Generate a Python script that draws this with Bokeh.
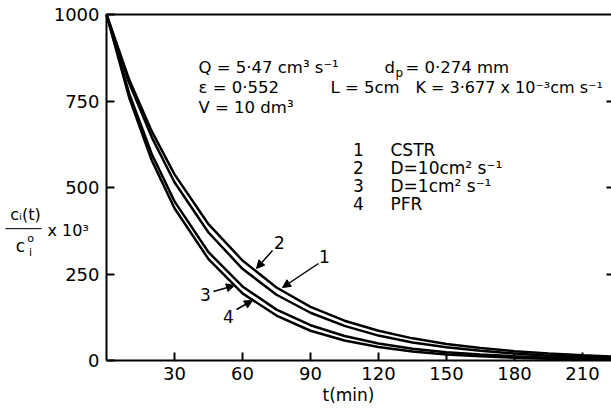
from bokeh.plotting import figure
from bokeh.models import Label, Arrow, NormalHead, FixedTicker, LinearAxis
from bokeh.embed import file_html
from bokeh.resources import INLINE

# ---- data ----
t_min = [0, 10, 20, 30, 45, 60, 75, 90, 105, 120, 135, 150, 165, 180, 195, 210, 225]
cstr = [1000, 812, 662, 538, 394, 289, 211, 155, 115, 86, 64, 48, 36, 27, 20, 15, 11]
d10 = [1000, 802, 645, 515, 370, 265, 190, 138, 100, 72, 52, 38, 28, 20, 14, 10, 7]
d1 = [1000, 772, 596, 460, 313, 214, 147, 102, 71, 49, 34, 24, 17, 12, 8, 6, 4]
pfr = [1000, 760, 578, 440, 293, 194, 130, 86, 58, 39, 26, 17, 12, 8, 5, 4, 3]

x_ticks = [30, 60, 90, 120, 150, 180, 210]
y_ticks = [0, 250, 500, 750, 1000]

W, H = 611, 409
X0_PX, Y0_PX = 106, 360          # pixel position of the (0, 0) corner
SX, SY = 2.2666, 0.346           # pixels per minute / per unit
X_END = (W - X0_PX) / SX
FONT = "DejaVu Sans"

p = figure(width=W, height=H, output_backend="svg", toolbar_location=None,
           x_range=(-X0_PX / SX, X_END), y_range=((Y0_PX - H) / SY, Y0_PX / SY),
           min_border=0, x_axis_location="below", y_axis_location="left")
p.outline_line_color = None
p.xgrid.visible = False
p.ygrid.visible = False

def style_axis(ax, tick_in=8, labels=True):
    ax.axis_line_width = 2
    ax.axis_line_color = "black"
    ax.major_tick_line_width = 2
    ax.major_tick_line_color = "black"
    ax.major_tick_in = tick_in
    ax.major_tick_out = 0
    ax.minor_tick_line_color = None
    ax.major_label_text_font = FONT
    ax.major_label_text_font_size = "18px"
    ax.major_label_text_color = "black" if labels else None

xa = p.xaxis[0]
ya = p.yaxis[0]
style_axis(xa)
style_axis(ya)
xa.ticker = FixedTicker(ticks=x_ticks)
ya.ticker = FixedTicker(ticks=y_ticks)
xa.fixed_location = 0
ya.fixed_location = 0
xa.bounds = (0, X_END)
ya.bounds = (0, 1000)
xa.major_label_standoff = 6
ya.major_label_standoff = 7

top = LinearAxis(fixed_location=1000, bounds=(0, X_END), ticker=FixedTicker(ticks=[]))
style_axis(top, labels=False)
top.major_tick_line_color = None
p.add_layout(top, "above")

right = LinearAxis(fixed_location=X_END, bounds=(0, 1000),
                   ticker=FixedTicker(ticks=[v for v in y_ticks if 0 < v < 1000]))
style_axis(right, tick_in=5, labels=False)
right.axis_line_color = None
p.add_layout(right, "right")

for series in (cstr, d10, d1, pfr):
    p.line(t_min, series, line_color="black", line_width=2.5)

def tx(px):
    return (px - X0_PX) / SX

def cy(py):
    return (Y0_PX - py) / SY

def lab(x, y, text, size="16.5px", align="left", font=FONT):
    p.add_layout(Label(x=tx(x), y=cy(y), text=text, text_font=font,
                       text_font_size=size, text_align=align,
                       text_baseline="middle", text_color="black"))

# parameter block
lab(198, 67, "Q = 5·47 cm³ s⁻¹")
lab(384, 67, "d")
lab(395, 72, "p", size="12px")
lab(405, 67, "= 0·274 mm")
lab(198, 87, "ε = 0·552")
lab(330, 87, "L = 5cm")
lab(415, 87, "K = 3·677 x 10⁻³cm s⁻¹", size="16px")
lab(198, 107, "V = 10 dm³")

# legend block
legend_nums = ["1", "2", "3", "4"]
legend_txt = ["CSTR", "D=10cm² s⁻¹", "D=1cm² s⁻¹", "PFR"]
for i, (n, s) in enumerate(zip(legend_nums, legend_txt)):
    yy = 149 + 18 * i
    lab(358, yy, n, size="17px", align="center")
    lab(390, yy, s, size="17px")

# curve markers with arrows
arrows = [
    ("1", (324, 256), (318, 263), (282, 287)),
    ("2", (279, 242), (272, 250), (256, 268)),
    ("3", (205, 294), (213, 291), (234, 285)),
    ("4", (228, 316), (236, 309), (252, 300)),
]
for n, (lx, ly), (sx, sy), (ex, ey) in arrows:
    lab(lx, ly, n, size="17px", align="center")
    p.add_layout(Arrow(end=NormalHead(size=8, fill_color="black", line_color="black"),
                       x_start=tx(sx), y_start=cy(sy), x_end=tx(ex), y_end=cy(ey),
                       line_color="black", line_width=1.5))

# x-axis title
lab(348, 394, "t(min)", size="17px", align="center")

# y-axis title as a fraction
lab(25, 214, "cᵢ(t)", size="16px", align="center")
lab(23, 228, "─────", size="12px", align="center", font="DejaVu Sans Mono")
lab(20, 245, "c", size="17px", align="center")
lab(30, 238, "o", size="11px", align="center")
lab(30, 252, "i", size="11px", align="center")
lab(47, 230, "x 10³", size="16px")

open("out.html", "w").write(file_html(p, INLINE))
